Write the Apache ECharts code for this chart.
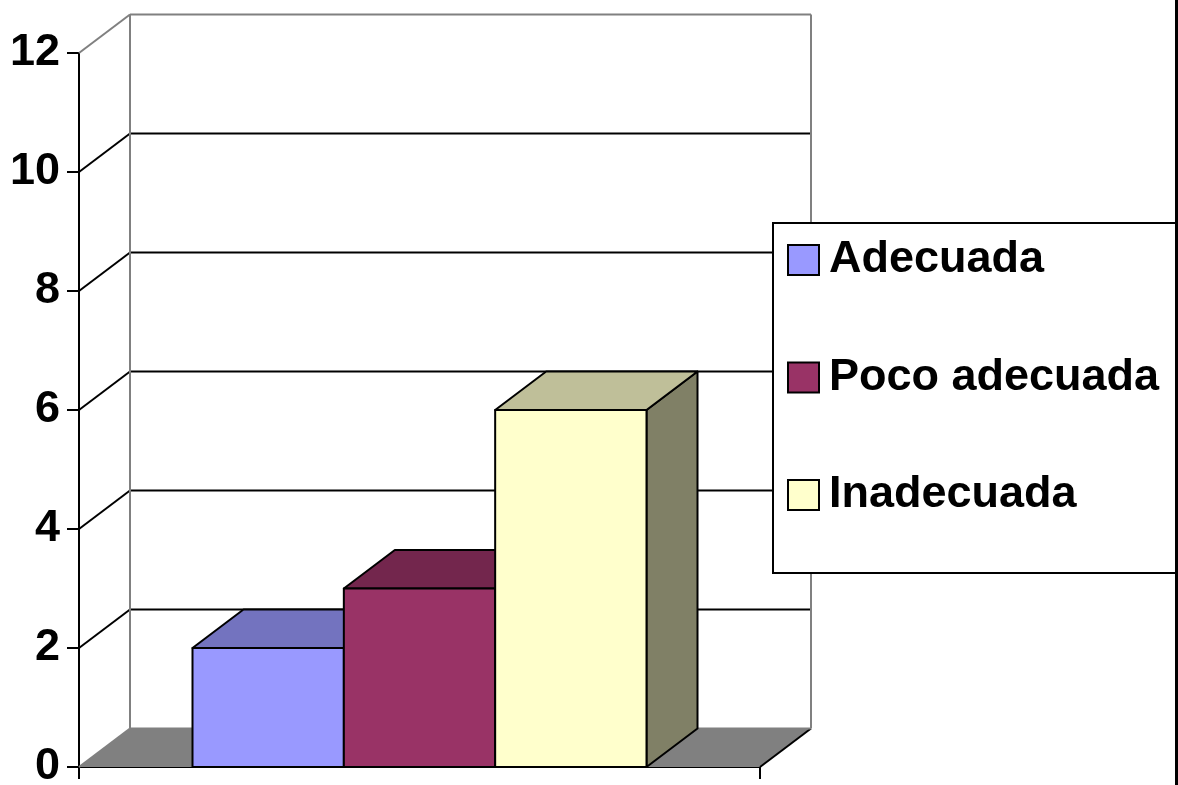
<!DOCTYPE html>
<html>
<head>
<meta charset="utf-8">
<script src="https://cdn.jsdelivr.net/npm/echarts@6/dist/echarts.min.js"></script>
<style>html,body{margin:0;padding:0;background:#fff;}#c{width:1178px;height:785px;}</style>
</head>
<body>
<div id="c"></div>
<script>
var seriesNames = ['Adecuada', 'Poco adecuada', 'Inadecuada'];
var seriesValues = [2, 3, 6];
var yTicks = [0, 2, 4, 6, 8, 10, 12];
var frontColors = ['#9999FF', '#993366', '#FFFFCC'];
var topColors = ['#7373BF', '#73264D', '#BFBF99'];
var sideColors = ['#737399', '#4D1A33', '#808066'];

var DX = 51, DY = 38.5;
var FONT = '"Liberation Sans", Arial, sans-serif';

var chart = echarts.init(document.getElementById('c'));

function wallsRender(params, api) {
  var v = api.value(1);
  var p = api.coord([0, v]);
  var base = api.coord([0, 0]);
  var band = api.size([1, 0])[0];
  var x0 = p[0] - band / 2, x1 = p[0] + band / 2, y = p[1];
  var isEdge = (v === yTicks[0] || v === yTicks[yTicks.length - 1]);
  var col = isEdge ? '#808080' : '#000';
  var children = [];
  if (v === yTicks[0]) {
    children.push({type: 'polygon', shape: {points: [[x0, y], [x1, y], [x1 + DX, y - DY], [x0 + DX, y - DY]]},
      style: {fill: '#808080', stroke: null}});
    children.push({type: 'line', shape: {x1: x1, y1: y, x2: x1 + DX, y2: y - DY}, style: {stroke: '#000', lineWidth: 2}});
  }
  children.push({type: 'line', shape: {x1: x0, y1: y, x2: x0 + DX, y2: y - DY}, style: {stroke: col, lineWidth: 2}});
  children.push({type: 'line', shape: {x1: x0 + DX, y1: y - DY, x2: x1 + DX, y2: y - DY}, style: {stroke: col, lineWidth: 2}});
  if (v === yTicks[yTicks.length - 1]) {
    children.push({type: 'line', shape: {x1: x0 + DX, y1: y - DY, x2: x0 + DX, y2: base[1] - DY}, style: {stroke: '#808080', lineWidth: 2}});
    children.push({type: 'line', shape: {x1: x1 + DX, y1: y - DY, x2: x1 + DX, y2: base[1] - DY}, style: {stroke: '#808080', lineWidth: 2}});
  }
  return {type: 'group', children: children};
}

function makeBarRender(i) {
  return function (params, api) {
    var v = api.value(1);
    var p = api.coord([0, v]);
    var b = api.coord([0, 0]);
    var band = api.size([1, 0])[0];
    var w = band / 4.5;
    var l = p[0] - 1.5 * w + i * w, r = l + w;
    var t = p[1], bt = b[1];
    var st = {stroke: '#000', lineWidth: 2, lineJoin: 'round'};
    return {type: 'group', children: [
      {type: 'polygon', shape: {points: [[r, t], [r + DX, t - DY], [r + DX, bt - DY], [r, bt]]},
        style: Object.assign({fill: sideColors[i]}, st)},
      {type: 'polygon', shape: {points: [[l, t], [l + DX, t - DY], [r + DX, t - DY], [r, t]]},
        style: Object.assign({fill: topColors[i]}, st)},
      {type: 'rect', shape: {x: l, y: t, width: w, height: bt - t},
        style: Object.assign({fill: frontColors[i]}, st)}
    ]};
  };
}

var series = [{
  type: 'custom', name: 'walls', z: 1, silent: true,
  renderItem: wallsRender,
  encode: {x: 0, y: 1},
  data: yTicks.map(function (v) { return [0, v]; })
}];
seriesNames.forEach(function (n, i) {
  series.push({
    type: 'custom', name: n, z: 2,
    itemStyle: {color: frontColors[i]},
    renderItem: makeBarRender(i),
    encode: {x: 0, y: 1},
    data: [[0, seriesValues[i]]]
  });
});

chart.setOption({
  animation: false,
  backgroundColor: '#fff',
  grid: {left: 79, top: 53, width: 681, height: 714, containLabel: false, outerBoundsMode: 'none'},
  xAxis: {
    type: 'category', data: [''],
    axisLine: {lineStyle: {color: '#000', width: 2}},
    axisTick: {show: true, length: 12, lineStyle: {color: '#000', width: 2}},
    axisLabel: {show: false},
    splitLine: {show: false}
  },
  yAxis: {
    type: 'value', min: 0, max: 12, interval: 2,
    axisLine: {show: true, lineStyle: {color: '#000', width: 2}},
    axisTick: {show: true, length: 12, lineStyle: {color: '#000', width: 2}},
    axisLabel: {color: '#000', fontSize: 45, fontWeight: 'bold', fontFamily: FONT, margin: 19},
    splitLine: {show: false}
  },
  legend: {
    orient: 'vertical', left: 787, top: 235, padding: 0, z: 10,
    icon: 'rect', itemWidth: 31, itemHeight: 30, itemGap: 67.5,
    data: seriesNames.map(function (n) { return {name: n, itemStyle: {borderColor: '#000', borderWidth: 2}}; }),
    textStyle: {color: '#000', fontSize: 45, fontWeight: 'bold', fontFamily: FONT, lineHeight: 50, padding: [0, 0, 0, 5]},
    selectedMode: false
  },
  graphic: [
    {type: 'rect', z: 5, shape: {x: 773, y: 223, width: 404, height: 350}, style: {fill: '#fff', stroke: '#000', lineWidth: 2}},
    {type: 'line', z: 6, shape: {x1: 1176.5, y1: 0, x2: 1176.5, y2: 785}, style: {stroke: '#000', lineWidth: 3}}
  ],
  series: series
});
</script>
</body>
</html>
